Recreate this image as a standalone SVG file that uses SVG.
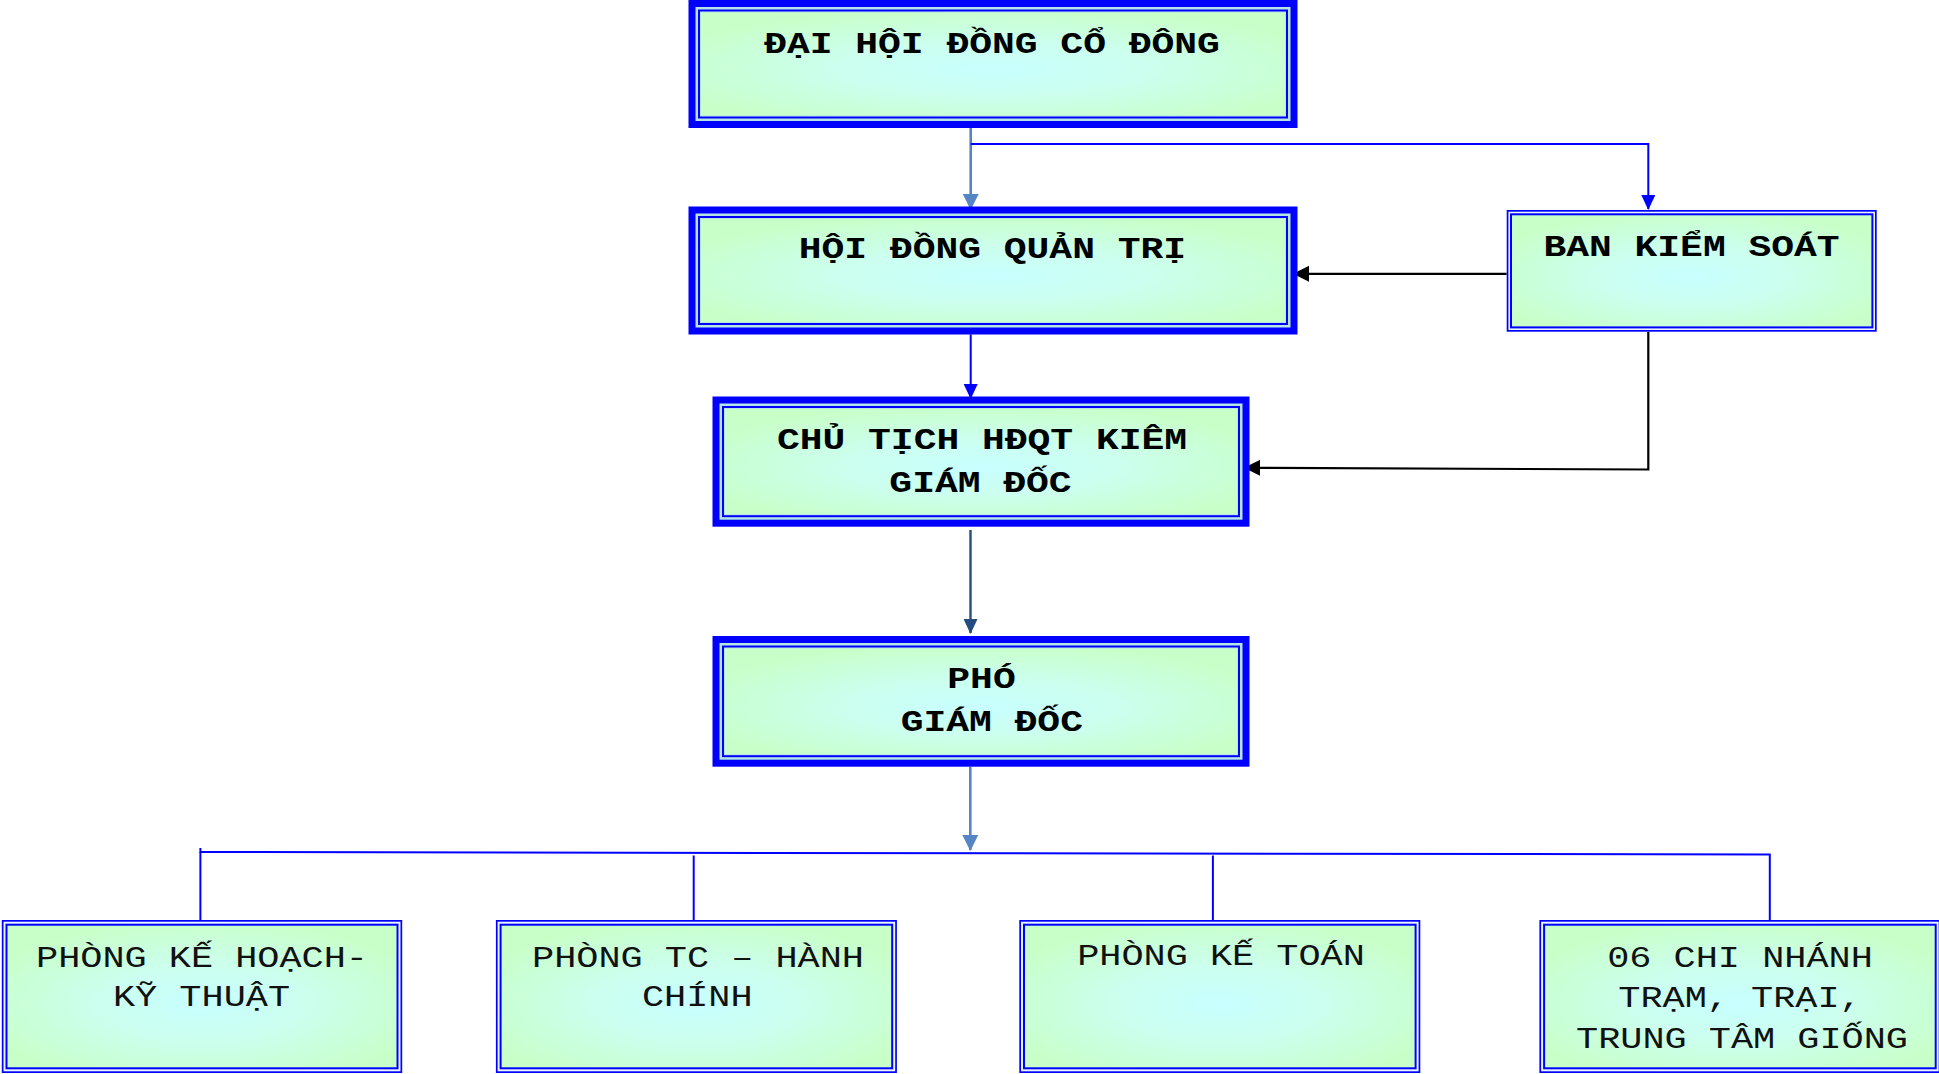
<svg xmlns="http://www.w3.org/2000/svg" width="1939" height="1074" viewBox="0 0 1939 1074">
<defs>
<radialGradient id="fill" cx="50%" cy="55%" r="60%" fx="50%" fy="55%">
<stop offset="0" stop-color="#C8FFFF"/>
<stop offset="0.45" stop-color="#CCFFEE"/>
<stop offset="1" stop-color="#C8FFC8"/>
</radialGradient>
<marker id="aSteel" markerUnits="userSpaceOnUse" markerWidth="16" markerHeight="16" viewBox="0 0 16 16" refX="15" refY="8" orient="auto"><path d="M0,0 L16,8 L0,16 Z" fill="#5585C5"/></marker>
<marker id="aBlue" markerUnits="userSpaceOnUse" markerWidth="15" markerHeight="14" viewBox="0 0 15 14" refX="14" refY="7" orient="auto"><path d="M0,0 L15,7 L0,14 Z" fill="#0000FF"/></marker>
<marker id="aBlack" markerUnits="userSpaceOnUse" markerWidth="16" markerHeight="16" viewBox="0 0 16 16" refX="15" refY="8" orient="auto"><path d="M0,0 L16,8 L0,16 Z" fill="#000000"/></marker>
<marker id="aNavy" markerUnits="userSpaceOnUse" markerWidth="15" markerHeight="14" viewBox="0 0 15 14" refX="14" refY="7" orient="auto"><path d="M0,0 L15,7 L0,14 Z" fill="#244C7E"/></marker>
</defs>
<style>
.thick{fill:#0000FF}
.gap{fill:#B4E6E6}
.line{fill:#0000FF}
.body{fill:url(#fill)}
.tb{font-family:"Liberation Mono","Courier New",monospace;font-weight:bold;font-size:29px;fill:#000;text-anchor:middle}
.tr{font-family:"Liberation Mono","Courier New",monospace;font-size:30px;fill:#111;text-anchor:middle}
.c{fill:none}
</style>

<g id="connectors">
<path class="c" d="M970.7,128 V209" stroke="#5585C5" stroke-width="2.6" marker-end="url(#aSteel)"/>
<path class="c" d="M970.7,144 H1648.3 V209" stroke="#0000FF" stroke-width="2" marker-end="url(#aBlue)"/>
<path class="c" d="M1506.7,273.8 H1294" stroke="#000000" stroke-width="2.2" marker-end="url(#aBlack)"/>
<path class="c" d="M1648.3,331.7 V469.5 L1245,467.8" stroke="#000000" stroke-width="2.2" marker-end="url(#aBlack)"/>
<path class="c" d="M970.7,334.3 V398" stroke="#0000FF" stroke-width="2" marker-end="url(#aBlue)"/>
<path class="c" d="M970.5,530 V633" stroke="#244C7E" stroke-width="2.4" marker-end="url(#aNavy)"/>
<path class="c" d="M970.3,766.7 V850" stroke="#5585C5" stroke-width="2.6" marker-end="url(#aSteel)"/>
<path class="c" d="M200.4,848 V852 L1769.8,854.5 V920" stroke="#0000FF" stroke-width="2"/>
<path class="c" d="M200.4,852 V920" stroke="#0000FF" stroke-width="2"/>
<path class="c" d="M693.7,855.5 V920" stroke="#0000FF" stroke-width="2"/>
<path class="c" d="M1212.9,855.5 V920" stroke="#0000FF" stroke-width="2"/>
</g>

<g id="dai-hoi-dong-co-dong">
<rect class="thick" x="688.5" y="0" width="609" height="128"/>
<rect class="gap" x="695.5" y="7" width="595" height="114"/>
<rect class="line" x="698" y="9.5" width="590" height="109"/>
<rect class="gap" x="700" y="11.5" width="586" height="105"/>
<rect class="body" x="701" y="12.5" width="584" height="103"/>
<text class="tb" transform="translate(992,52.5) scale(1.31,1)">ĐẠI HỘI ĐỒNG CỔ ĐÔNG</text>
</g>

<g id="hoi-dong-quan-tri">
<rect class="thick" x="688.5" y="206.5" width="609" height="128"/>
<rect class="gap" x="695.5" y="213.5" width="595" height="114"/>
<rect class="line" x="698" y="216" width="590" height="109"/>
<rect class="gap" x="700" y="218" width="586" height="105"/>
<rect class="body" x="701" y="219" width="584" height="103"/>
<text class="tb" transform="translate(992.4,258.3) scale(1.31,1)">HỘI ĐỒNG QUẢN TRỊ</text>
</g>

<g id="ban-kiem-soat">
<rect class="line" x="1506.7" y="210" width="370" height="121.7"/>
<rect fill="#E8F4FF" x="1508.4" y="211.7" width="366.6" height="118.3"/>
<rect class="line" x="1510" y="213.3" width="363.4" height="115.1"/>
<rect class="body" x="1512" y="215.3" width="359.4" height="111.1"/>
<text class="tb" transform="translate(1691.5,255.7) scale(1.31,1)">BAN KIỂM SOÁT</text>
</g>

<g id="chu-tich-hdqt">
<rect class="thick" x="712.5" y="396.5" width="537" height="130.2"/>
<rect class="gap" x="719.5" y="403.5" width="523" height="116.2"/>
<rect class="line" x="722" y="406" width="518" height="111.2"/>
<rect class="gap" x="724" y="408" width="514" height="107.2"/>
<rect class="body" x="725" y="409" width="512" height="105.2"/>
<text class="tb" transform="translate(982,449.3) scale(1.31,1)">CHỦ TỊCH HĐQT KIÊM</text>
<text class="tb" transform="translate(980.5,491.7) scale(1.31,1)">GIÁM ĐỐC</text>
</g>

<g id="pho-giam-doc">
<rect class="thick" x="712.5" y="636" width="537" height="130.7"/>
<rect class="gap" x="719.5" y="643" width="523" height="116.7"/>
<rect class="line" x="722" y="645.5" width="518" height="111.7"/>
<rect class="gap" x="724" y="647.5" width="514" height="107.7"/>
<rect class="body" x="725" y="648.5" width="512" height="105.7"/>
<text class="tb" transform="translate(981.5,688.3) scale(1.31,1)">PHÓ</text>
<text class="tb" transform="translate(991.8,730.7) scale(1.31,1)">GIÁM ĐỐC</text>
</g>

<g id="phong-ke-hoach">
<rect class="line" x="1.8" y="920" width="400.4" height="153"/>
<rect fill="#E8F4FF" x="3.5" y="921.7" width="397" height="149.6"/>
<rect class="line" x="5.5" y="923.7" width="393" height="145.6"/>
<rect class="body" x="7.5" y="925.7" width="389" height="141.6"/>
<text class="tr" transform="translate(202,966.7) scale(1.23,1)">PHÒNG KẾ HOẠCH-</text>
<text class="tr" transform="translate(201.5,1006) scale(1.23,1)">KỸ THUẬT</text>
</g>

<g id="phong-tc-hanh-chinh">
<rect class="line" x="495.9" y="920" width="401" height="153"/>
<rect fill="#E8F4FF" x="497.6" y="921.7" width="397.6" height="149.6"/>
<rect class="line" x="499.6" y="923.7" width="393.6" height="145.6"/>
<rect class="body" x="501.6" y="925.7" width="389.6" height="141.6"/>
<text class="tr" transform="translate(698,966.7) scale(1.23,1)">PHÒNG TC – HÀNH</text>
<text class="tr" transform="translate(697.3,1006) scale(1.23,1)">CHÍNH</text>
</g>

<g id="phong-ke-toan">
<rect class="line" x="1019.3" y="920" width="401" height="153"/>
<rect fill="#E8F4FF" x="1021" y="921.7" width="397.6" height="149.6"/>
<rect class="line" x="1023" y="923.7" width="393.6" height="145.6"/>
<rect class="body" x="1025" y="925.7" width="389.6" height="141.6"/>
<text class="tr" transform="translate(1221,965) scale(1.23,1)">PHÒNG KẾ TOÁN</text>
</g>

<g id="chi-nhanh">
<rect class="line" x="1539.4" y="920" width="401" height="153"/>
<rect fill="#E8F4FF" x="1541.1" y="921.7" width="397.6" height="149.6"/>
<rect class="line" x="1543.1" y="923.7" width="393.6" height="145.6"/>
<rect class="body" x="1545.1" y="925.7" width="389.6" height="141.6"/>
<text class="tr" transform="translate(1740,966.7) scale(1.23,1)">06 CHI NHÁNH</text>
<text class="tr" transform="translate(1740,1006.7) scale(1.23,1)">TRẠM, TRẠI,</text>
<text class="tr" transform="translate(1742,1048.3) scale(1.23,1)">TRUNG TÂM GIỐNG</text>
</g>
</svg>
